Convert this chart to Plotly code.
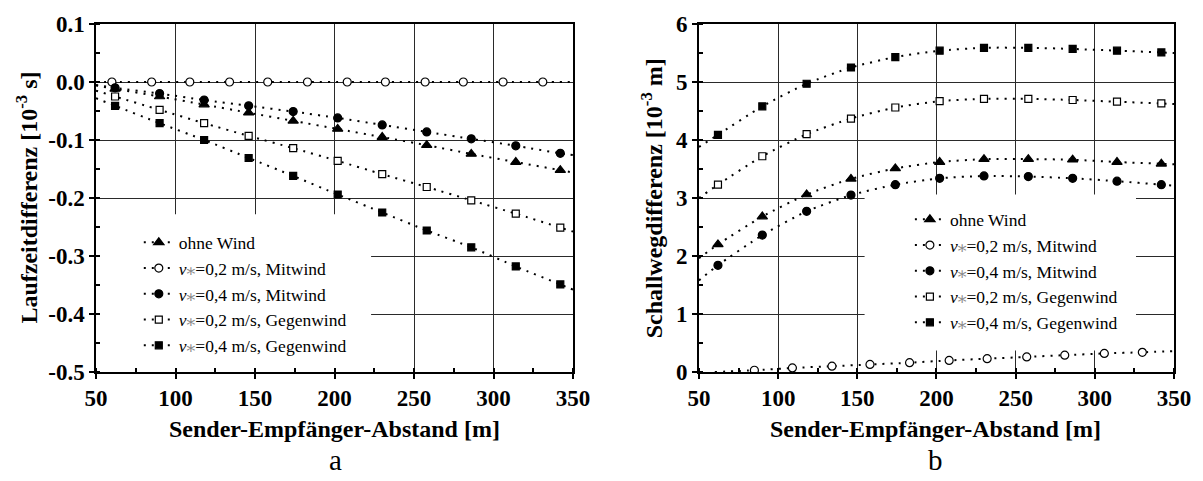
import plotly.graph_objects as go

# ---------------- data ----------------
# Sender-Empfänger-Abstand [m]
dist = [62, 90, 118, 146, 174, 202, 230, 258, 286, 314, 342]
dist_mit02_a = [60, 85, 109, 134, 158, 183, 208, 232, 257, 281, 306, 331]
dist_mit02_b = [85, 109, 134, 158, 183, 208, 232, 257, 281, 306, 330]

# (a) Laufzeitdifferenz [10^-3 s]
lz_ohne = [-0.012, -0.025, -0.039, -0.053, -0.067, -0.081, -0.095, -0.109, -0.124, -0.138, -0.152]
lz_mit02 = [0.0, 0.0, 0.0, 0.0, 0.0, 0.0, 0.0, 0.0, 0.0, 0.0, 0.0, 0.0]
lz_mit04 = [-0.010, -0.020, -0.031, -0.041, -0.051, -0.062, -0.074, -0.086, -0.098, -0.110, -0.123]
lz_gegen02 = [-0.025, -0.048, -0.071, -0.093, -0.114, -0.136, -0.159, -0.181, -0.204, -0.227, -0.251]
lz_gegen04 = [-0.041, -0.071, -0.100, -0.131, -0.162, -0.194, -0.225, -0.256, -0.285, -0.318, -0.349]

# (b) Schallwegdifferenz [10^-3 m]
sw_ohne = [2.20, 2.68, 3.06, 3.33, 3.51, 3.62, 3.67, 3.67, 3.66, 3.62, 3.59]
sw_mit02 = [0.03, 0.07, 0.10, 0.13, 0.16, 0.20, 0.23, 0.26, 0.29, 0.32, 0.34]
sw_mit04 = [1.84, 2.36, 2.77, 3.05, 3.23, 3.34, 3.38, 3.37, 3.34, 3.29, 3.23]
sw_gegen02 = [3.23, 3.72, 4.10, 4.37, 4.56, 4.67, 4.71, 4.71, 4.69, 4.66, 4.63]
sw_gegen04 = [4.09, 4.58, 4.97, 5.25, 5.43, 5.54, 5.59, 5.59, 5.57, 5.54, 5.51]

# ends of the dotted fit curves at the frame: (x_start, y_start, x_end, y_end)
lz_fit_ends = {
    "ohne": (50, -0.006, 350, -0.156),
    "mit02": (50, 0.0, 350, 0.0),
    "mit04": (50, -0.005, 350, -0.126),
    "gegen02": (50, -0.015, 350, -0.258),
    "gegen04": (50, -0.028, 350, -0.358),
}
sw_fit_ends = {
    "ohne": (50, 1.96, 350, 3.58),
    "mit02": (60, 0.0, 350, 0.36),
    "mit04": (50, 1.58, 350, 3.21),
    "gegen02": (50, 3.00, 350, 4.62),
    "gegen04": (50, 3.88, 350, 5.50),
}

x_ticks = [50, 100, 150, 200, 250, 300, 350]
x_ticktext = ["50", "100", "150", "200", "250", "300", "350"]
lz_ticks = [0.1, 0.0, -0.1, -0.2, -0.3, -0.4, -0.5]
lz_ticktext = ["0.1", "0.0", "-0.1", "-0.2", "-0.3", "-0.4", "-0.5"]
sw_ticks = [0, 1, 2, 3, 4, 5, 6]
sw_ticktext = ["0", "1", "2", "3", "4", "5", "6"]

VSTAR = "<i>v</i><span style='color:#8a8a8a'>⁎</span>"
labels = {
    "ohne": "ohne Wind",
    "mit02": VSTAR + "=0,2 m/s, Mitwind",
    "mit04": VSTAR + "=0,4 m/s, Mitwind",
    "gegen02": VSTAR + "=0,2 m/s, Gegenwind",
    "gegen04": VSTAR + "=0,4 m/s, Gegenwind",
}
symbols = {
    "ohne": ("triangle-up", "black", 9),
    "mit02": ("circle", "white", 8),
    "mit04": ("circle", "black", 8),
    "gegen02": ("square", "white", 7),
    "gegen04": ("square", "black", 7),
}
order = ["ohne", "mit02", "mit04", "gegen02", "gegen04"]

FONT = "'Liberation Serif', 'Times New Roman', 'DejaVu Serif', serif"
DOT = dict(color="black", width=2, dash="2px,6px")

series_a = {
    "ohne": (dist, lz_ohne), "mit02": (dist_mit02_a, lz_mit02), "mit04": (dist, lz_mit04),
    "gegen02": (dist, lz_gegen02), "gegen04": (dist, lz_gegen04),
}
series_b = {
    "ohne": (dist, sw_ohne), "mit02": (dist_mit02_b, sw_mit02), "mit04": (dist, sw_mit04),
    "gegen02": (dist, sw_gegen02), "gegen04": (dist, sw_gegen04),
}

fig = go.Figure()


def add_panel(series, ends, xa, ya, legend):
    for key in order:
        xs, ys = series[key]
        x0, y0, x1, y1 = ends[key]
        sym, fill, size = symbols[key]
        marker = dict(symbol=sym, color=fill, size=size, line=dict(color="black", width=1.2))
        # dotted curve
        fig.add_trace(go.Scatter(
            x=[x0] + xs + [x1], y=[y0] + ys + [y1], mode="lines",
            line=dict(shape="spline", smoothing=0.6, **DOT),
            xaxis=xa, yaxis=ya, showlegend=False, hoverinfo="skip"))
        # measured points
        fig.add_trace(go.Scatter(
            x=xs, y=ys, mode="markers", marker=marker,
            xaxis=xa, yaxis=ya, showlegend=False))
        # legend entry
        fig.add_trace(go.Scatter(
            x=[None], y=[None], mode="lines+markers", marker=marker, line=DOT,
            name=labels[key], xaxis=xa, yaxis=ya, legend=legend))


add_panel(series_a, lz_fit_ends, "x", "y", "legend")
add_panel(series_b, sw_fit_ends, "x2", "y2", "legend2")

tickfont = dict(family=FONT, size=23, color="black", weight="bold")
common_x = dict(
    range=[50, 350], tickvals=x_ticks, ticktext=x_ticktext, tickfont=tickfont,
    showline=True, linecolor="black", linewidth=1.5, mirror=True,
    ticks="outside", ticklen=5, tickwidth=1.5, tickcolor="black",
    minor=dict(ticks="inside", ticklen=4, tickwidth=1.5, tickcolor="black", dtick=25, tick0=50, showgrid=False),
    showgrid=True, gridcolor="#2a2a2a", gridwidth=1, zeroline=False,
)
common_y = dict(
    tickfont=tickfont, showline=True, linecolor="black", linewidth=1.5, mirror=True,
    ticks="outside", ticklen=5, tickwidth=1.5, tickcolor="black",
    showgrid=True, gridcolor="#2a2a2a", gridwidth=1, zeroline=False,
)
left_dom = [0, 481 / 1087]
right_dom = [608 / 1087, 1]

legend_font = dict(family=FONT, size=17.5, color="black")
fig.update_layout(
    width=1203, height=481,
    margin=dict(l=96, r=20, t=24, b=109),
    paper_bgcolor="white", plot_bgcolor="white",
    font=dict(family=FONT, color="black"),
    xaxis=dict(domain=left_dom, anchor="y", **common_x),
    yaxis=dict(domain=[0, 1], anchor="x", range=[-0.5, 0.1], tickvals=lz_ticks, ticktext=lz_ticktext,
               minor=dict(ticks="inside", ticklen=4, tickwidth=1.5, tickcolor="black", dtick=0.05, tick0=0, showgrid=False),
               **common_y),
    xaxis2=dict(domain=right_dom, anchor="y2", **common_x),
    yaxis2=dict(domain=[0, 1], anchor="x2", range=[0, 6], tickvals=sw_ticks, ticktext=sw_ticktext,
                minor=dict(ticks="inside", ticklen=4, tickwidth=1.5, tickcolor="black", dtick=0.5, tick0=0, showgrid=False),
                **common_y),
    showlegend=True,
    legend=dict(x=0.0397, y=0.424, xanchor="left", yanchor="top", bgcolor="rgba(0,0,0,0)",
                font=legend_font, tracegroupgap=0, itemclick=False),
    legend2=dict(x=0.755, y=0.490, xanchor="left", yanchor="top", bgcolor="rgba(0,0,0,0)",
                 font=legend_font, tracegroupgap=0, itemclick=False),
)

# inward ticks on the top and right frame edges
inner_minor_x = dict(ticks="inside", ticklen=4, tickwidth=1.5, tickcolor="black", dtick=25, tick0=50)
edge = dict(showticklabels=False, ticks="inside", ticklen=5, tickwidth=1.5, tickcolor="black",
            showgrid=False, zeroline=False, showline=False)
fig.update_layout(
    xaxis3=dict(overlaying="x", anchor="y", side="top", range=[50, 350], tickvals=x_ticks,
                minor=inner_minor_x, **edge),
    yaxis3=dict(overlaying="y", anchor="x", side="right", range=[-0.5, 0.1], tickvals=lz_ticks,
                minor=dict(ticks="inside", ticklen=4, tickwidth=1.5, tickcolor="black", dtick=0.05, tick0=0),
                **edge),
    xaxis4=dict(overlaying="x2", anchor="y2", side="top", range=[50, 350], tickvals=x_ticks,
                minor=inner_minor_x, **edge),
    yaxis4=dict(overlaying="y2", anchor="x2", side="right", range=[0, 6], tickvals=sw_ticks,
                minor=dict(ticks="inside", ticklen=4, tickwidth=1.5, tickcolor="black", dtick=0.5, tick0=0),
                **edge),
)

# white panels behind the legends that hide the grid there
fig.add_shape(type="rect", xref="x", yref="y", x0=50, x1=223, y0=-0.5, y1=-0.228,
              fillcolor="white", line=dict(width=0), layer="between")
fig.add_shape(type="rect", xref="x2", yref="y2", x0=154.6, x1=326, y0=0.37, y1=3.06,
              fillcolor="white", line=dict(width=0), layer="between")

title_font = dict(family=FONT, size=24, color="black", weight="bold")
annotations = [
    dict(text="Sender-Empfänger-Abstand [m]", x=(336 - 96) / 1087, y=(372 - 429) / 348),
    dict(text="Sender-Empfänger-Abstand [m]", x=(943 - 96) / 1087, y=(372 - 429) / 348),
    dict(text="Laufzeitdifferenz [10<sup>-3</sup> s]", x=(26 - 96) / 1087, y=0.5, textangle=-90),
    dict(text="Schallwegdifferenz [10<sup>-3</sup> m]", x=(657 - 96) / 1087, y=0.5, textangle=-90),
]
for a in annotations:
    fig.add_annotation(xref="paper", yref="paper", showarrow=False, font=title_font,
                       xanchor="center", yanchor="middle", **a)
for txt, px in [("a", 338), ("b", 943)]:
    fig.add_annotation(text=txt, xref="paper", yref="paper", x=(px - 96) / 1087, y=(372 - 460) / 348,
                       showarrow=False, font=dict(family=FONT, size=29, color="black"),
                       xanchor="center", yanchor="middle")

fig.write_html("out.html")
